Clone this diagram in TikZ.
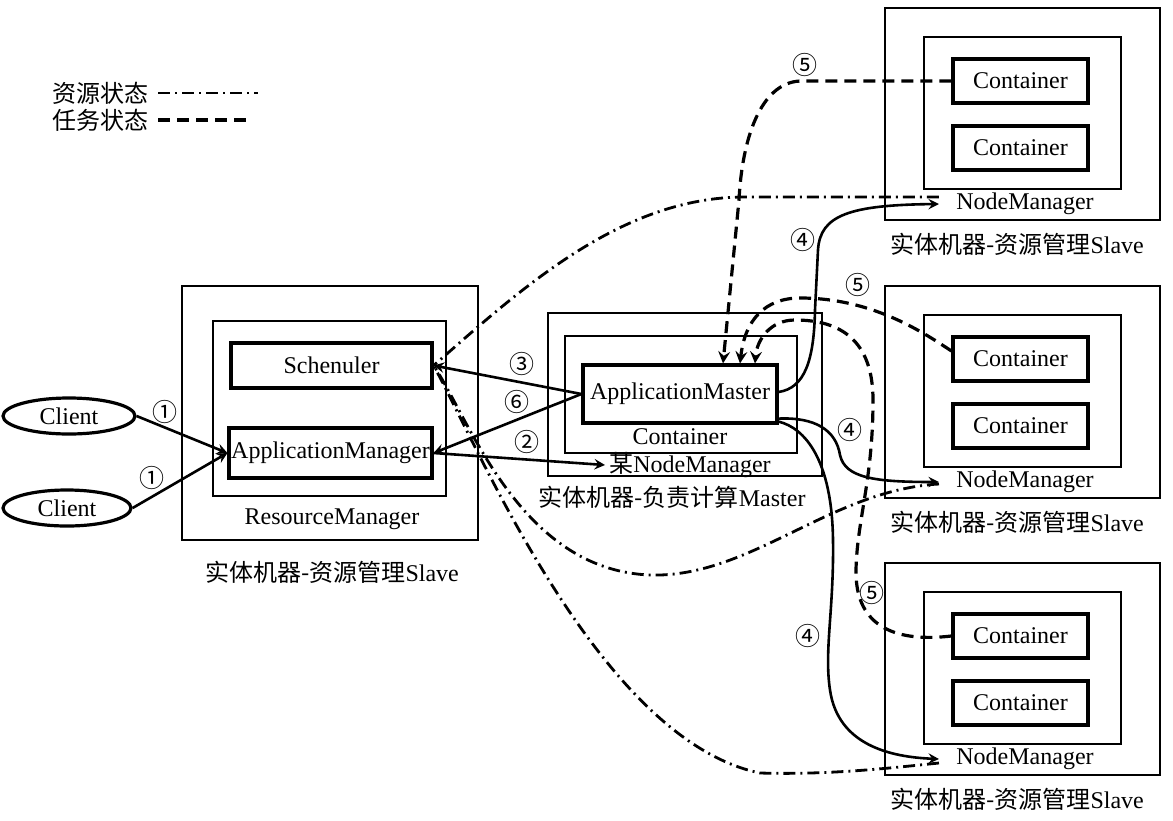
\documentclass[tikz,border=0pt]{standalone}
\usepackage{fontspec}
\setmainfont{Liberation Serif}
\newfontfamily\cjk{Noto Sans CJK SC}
\usetikzlibrary{shapes.geometric,calc}

\tikzset{
  box/.style={draw, line width=1pt, inner sep=0pt},
  cbox/.style={draw, line width=1.6pt, inner sep=0pt},
  client/.style={ellipse, draw, line width=1.6pt, inner sep=0pt},
  nmlabel/.style={inner xsep=8.5pt, inner ysep=0pt},
  num/.style={font=\cjk\fontsize{12.5}{12.5}\selectfont, inner sep=0pt},
  link/.style={line width=1.3pt, -stealth},
  res/.style={line width=1.4pt, dash pattern=on 6pt off 2.5pt on 1pt off 2.5pt},
  task/.style={line width=1.6pt, dash pattern=on 6pt off 3.5pt},
}

\begin{document}
\begin{tikzpicture}[x=0.5pt,y=0.5pt,font=\fontsize{12}{14}\selectfont]
\useasboundingbox (0,0) rectangle (1173,-820);

% legend
\node [anchor=east] (lres) at (156,-93) {\cjk 资源状态};
\node [anchor=east] (ltask) at (156,-120) {\cjk 任务状态};
\coordinate (lrese) at (258,-93);
\coordinate (ltaske) at (252,-120);
\draw [res] ([xshift=1pt]lres.east) -- (lrese);
\draw [task] ([xshift=1pt]ltask.east) -- (ltaske);

% clients
\node [client, minimum width=66pt, minimum height=18pt] (cl1) at (69,-416) {Client};
\node [client, minimum width=64pt, minimum height=18pt] (cl2) at (67,-508) {Client};

% resource manager
\node [box, minimum width=148pt, minimum height=127pt] (rm) at (330,-413) {};
\node [box, minimum width=116.5pt, minimum height=87.5pt] (rmin) at (329.5,-408.5) {};
\node [cbox, minimum width=100.5pt, minimum height=22.5pt] (sched) at (331.5,-365.5) {Schenuler};
\node [cbox, minimum width=101.5pt, minimum height=25pt] (am) at (330.5,-453) {ApplicationManager};
\node (rmlbl) at (332,-519) {ResourceManager};
\node (rmcap) at (332,-572) {{\cjk 实体机器-资源管理}Slave};

% master
\node [box, minimum width=137pt, minimum height=81.5pt] (mst) at (685,-394.5) {};
\node [box, minimum width=116pt, minimum height=58.5pt] (mcont) at (681,-394.5) {};
\node [cbox, minimum width=97pt, minimum height=29pt] (amaster) at (680,-394) {ApplicationMaster};
\node (mcontlbl) at (680,-437) {Container};
\node [anchor=west, inner sep=2pt] (nm0) at (605,-465) {{\cjk 某}NodeManager};
\node (mcap) at (672,-497) {{\cjk 实体机器-负责计算}Master};

% slaves
\node [box, minimum width=137.5pt, minimum height=106pt] (s1) at (1022.5,-114) {};
\node [box, minimum width=98.5pt, minimum height=76pt] (s1in) at (1022.5,-113) {};
\node [cbox, minimum width=67.5pt, minimum height=22pt] (s1c1) at (1020.5,-81) {Container};
\node [cbox, minimum width=67.5pt, minimum height=22pt] (s1c2) at (1020.5,-148) {Container};
\node [nmlabel] (nm1) at (1025,-204) {NodeManager};
\node (s1cap) at (1017,-244) {{\cjk 实体机器-资源管理}Slave};

\node [box, minimum width=137.5pt, minimum height=106pt] (s2) at (1022.5,-392) {};
\node [box, minimum width=98.5pt, minimum height=76pt] (s2in) at (1022.5,-391) {};
\node [cbox, minimum width=67.5pt, minimum height=22pt] (s2c1) at (1020.5,-359) {Container};
\node [cbox, minimum width=67.5pt, minimum height=22pt] (s2c2) at (1020.5,-426) {Container};
\node [nmlabel] (nm2) at (1025,-482) {NodeManager};
\node (s2cap) at (1017,-522) {{\cjk 实体机器-资源管理}Slave};

\node [box, minimum width=137.5pt, minimum height=106pt] (s3) at (1022.5,-669) {};
\node [box, minimum width=98.5pt, minimum height=76pt] (s3in) at (1022.5,-668) {};
\node [cbox, minimum width=67.5pt, minimum height=22pt] (s3c1) at (1020.5,-636) {Container};
\node [cbox, minimum width=67.5pt, minimum height=22pt] (s3c2) at (1020.5,-703) {Container};
\node [nmlabel] (nm3) at (1025,-759) {NodeManager};
\node (s3cap) at (1017,-799) {{\cjk 实体机器-资源管理}Slave};

% client -> RM, RM <-> AM
\draw [link] (cl1.east) -- (am.west);
\draw [link] (cl2.east) -- (am.west);
\draw [link] (am.east) -- (nm0.west);
\draw [link] (amaster.west) -- (sched.east);
\draw [link] (amaster.west) -- (am.east);

% AM starts containers
\draw [link] ([yshift=1pt]amaster.east) .. controls (805,-388) and (814,-360) .. (815,-310) -- (818,-250) .. controls (820,-215) and (850,-205) .. (nm1.west);
\draw [link] ([yshift=3pt]amaster.south east) .. controls (815,-417) and (836,-430) .. (840,-455) .. controls (845,-478) and (875,-482) .. (nm2.west);
\draw [link] ([yshift=1.5pt]amaster.south east) .. controls (805,-428) and (832,-460) .. (833,-540) .. controls (834,-610) and (824,-650) .. (830,-690) .. controls (838,-745) and (890,-757) .. (nm3.west);

% task state
\draw [task, -stealth] (s1c1.west) -- (800,-81) .. controls (760,-83) and (742,-140) .. (739,-200) -- ([xshift=21.5pt]amaster.north);
\draw [task, -stealth] ([yshift=4pt]s2c1.west) .. controls (920,-330) and (870,-298) .. (800,-298) .. controls (765,-298) and (745,-320) .. ([xshift=30pt]amaster.north);
\draw [task, -stealth] (s3c1.west) .. controls (900,-642) and (855,-630) .. (856,-570) .. controls (857,-520) and (873,-480) .. (873,-400) .. controls (873,-340) and (840,-320) .. (795,-320) .. controls (770,-320) and (757,-340) .. ([xshift=37.5pt]amaster.north);

% resource state
\draw [res] ([yshift=3.5pt]nm1.west) -- (745,-197) .. controls (620,-197) and (520,-290) .. (sched.east);
\draw [res] ([yshift=-1pt]nm2.west) .. controls (830,-490) and (750,-578) .. (650,-575) .. controls (520,-570) and (470,-420) .. (sched.east);
\draw [res] ([yshift=-2pt]nm3.west) .. controls (890,-768) and (830,-775) .. (760,-773) .. controls (600,-740) and (480,-450) .. (sched.east);

% step numbers
\node [num] (n1a) at (165,-412) {①};
\node [num] (n1b) at (152,-478) {①};
\node [num] (n2) at (527,-442) {②};
\node [num] (n3) at (522,-364) {③};
\node [num] (n6) at (517,-402) {⑥};
\node [num] (n4a) at (803,-240) {④};
\node [num] (n4b) at (850,-430) {④};
\node [num] (n4c) at (808,-636) {④};
\node [num] (n5a) at (805,-65) {⑤};
\node [num] (n5b) at (858,-285) {⑤};
\node [num] (n5c) at (872,-593) {⑤};
\end{tikzpicture}
\end{document}
